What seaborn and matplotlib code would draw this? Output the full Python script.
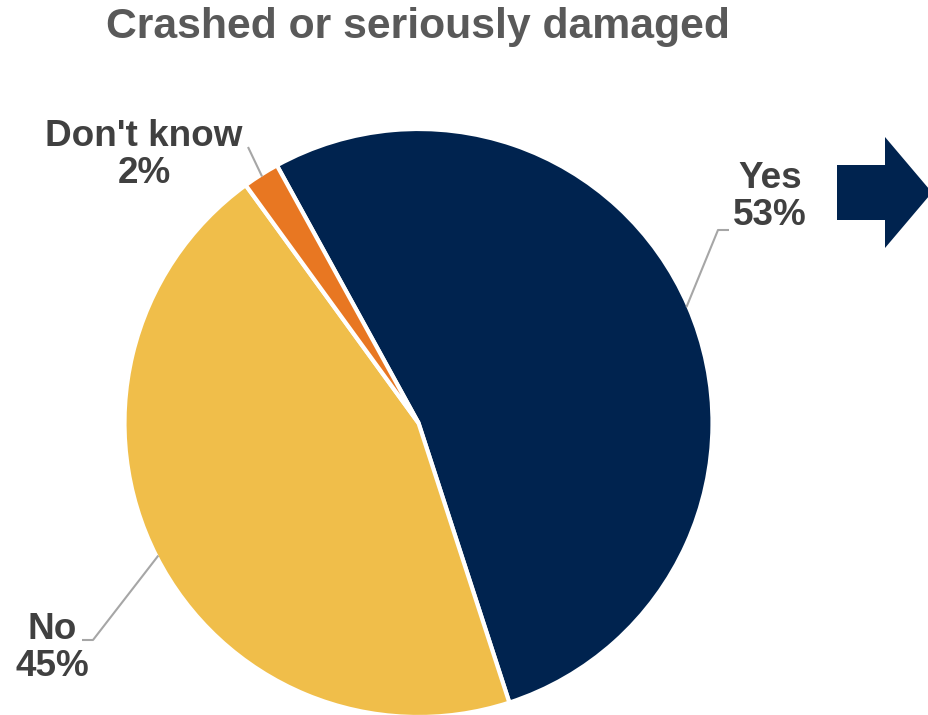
import matplotlib
matplotlib.use("Agg")
import matplotlib.pyplot as plt
from matplotlib.patches import Polygon
import numpy as np
import seaborn as sns

# Survey answers
categories = ["Yes", "No", "Don't know"]
shares = [53, 45, 2]
title = "Crashed or seriously damaged"

sns.set_theme(style="white")
plt.rcParams["font.family"] = ["Liberation Sans", "DejaVu Sans"]

palette = sns.color_palette(["#00234F", "#F0BE4A", "#E87722"])
W, H = 929, 715

fig = plt.figure(figsize=(W / 100, H / 100), dpi=100)
ax = fig.add_axes([0, 0, 1, 1])


def py(y):
    """Convert a top-down pixel row to the axes' y coordinate."""
    return H - y


cx, cy, r = 418.5, py(423), 294
wedges, _ = ax.pie(
    shares,
    colors=palette,
    startangle=118.8,
    counterclock=False,
    center=(cx, cy),
    radius=r,
    wedgeprops=dict(edgecolor="white", linewidth=3),
)
ax.set_xlim(0, W)
ax.set_ylim(0, H)
ax.set_aspect("equal")
ax.axis("off")

label_color = "#404040"
leader_color = "#A6A6A6"
fs = 26.6

# label anchor (elbow / end of leader) and text centre for each slice
layout = {
    "Yes": dict(elbow=(718, 230), end=(729, 230), text=(770, 197)),
    "No": dict(elbow=(93, 640), end=(82, 640), text=(52, 648)),
    "Don't know": dict(elbow=(248, 147), end=(248, 147), text=(144, 155)),
}

for w, cat, val in zip(wedges, categories, shares):
    mid = np.deg2rad((w.theta1 + w.theta2) / 2)
    sx, sy = cx + (r - 2) * np.cos(mid), cy + (r - 2) * np.sin(mid)
    lay = layout[cat]
    ex, ey = lay["elbow"]
    fx, fy = lay["end"]
    ax.plot([sx, ex, fx], [sy, py(ey), py(fy)], color=leader_color, lw=1.5,
            solid_capstyle="butt", zorder=1)
    tx, ty = lay["text"]
    ax.text(tx, py(ty), f"{cat}\n{val}%", ha="center", va="center",
            fontsize=fs, fontweight="bold", color=label_color,
            linespacing=1.1)

# navy arrow pointing right
arrow = Polygon(
    [(837, py(165)), (885, py(165)), (885, py(137)), (932, py(192.5)),
     (885, py(248)), (885, py(220)), (837, py(220))],
    closed=True, facecolor="#00234F", edgecolor="none",
)
ax.add_patch(arrow)

fig.text(418 / W, 1 - 27 / H, title, ha="center", va="center",
         fontsize=30.8, fontweight="bold", color="#595959")

fig.savefig("out.png", dpi=100)
